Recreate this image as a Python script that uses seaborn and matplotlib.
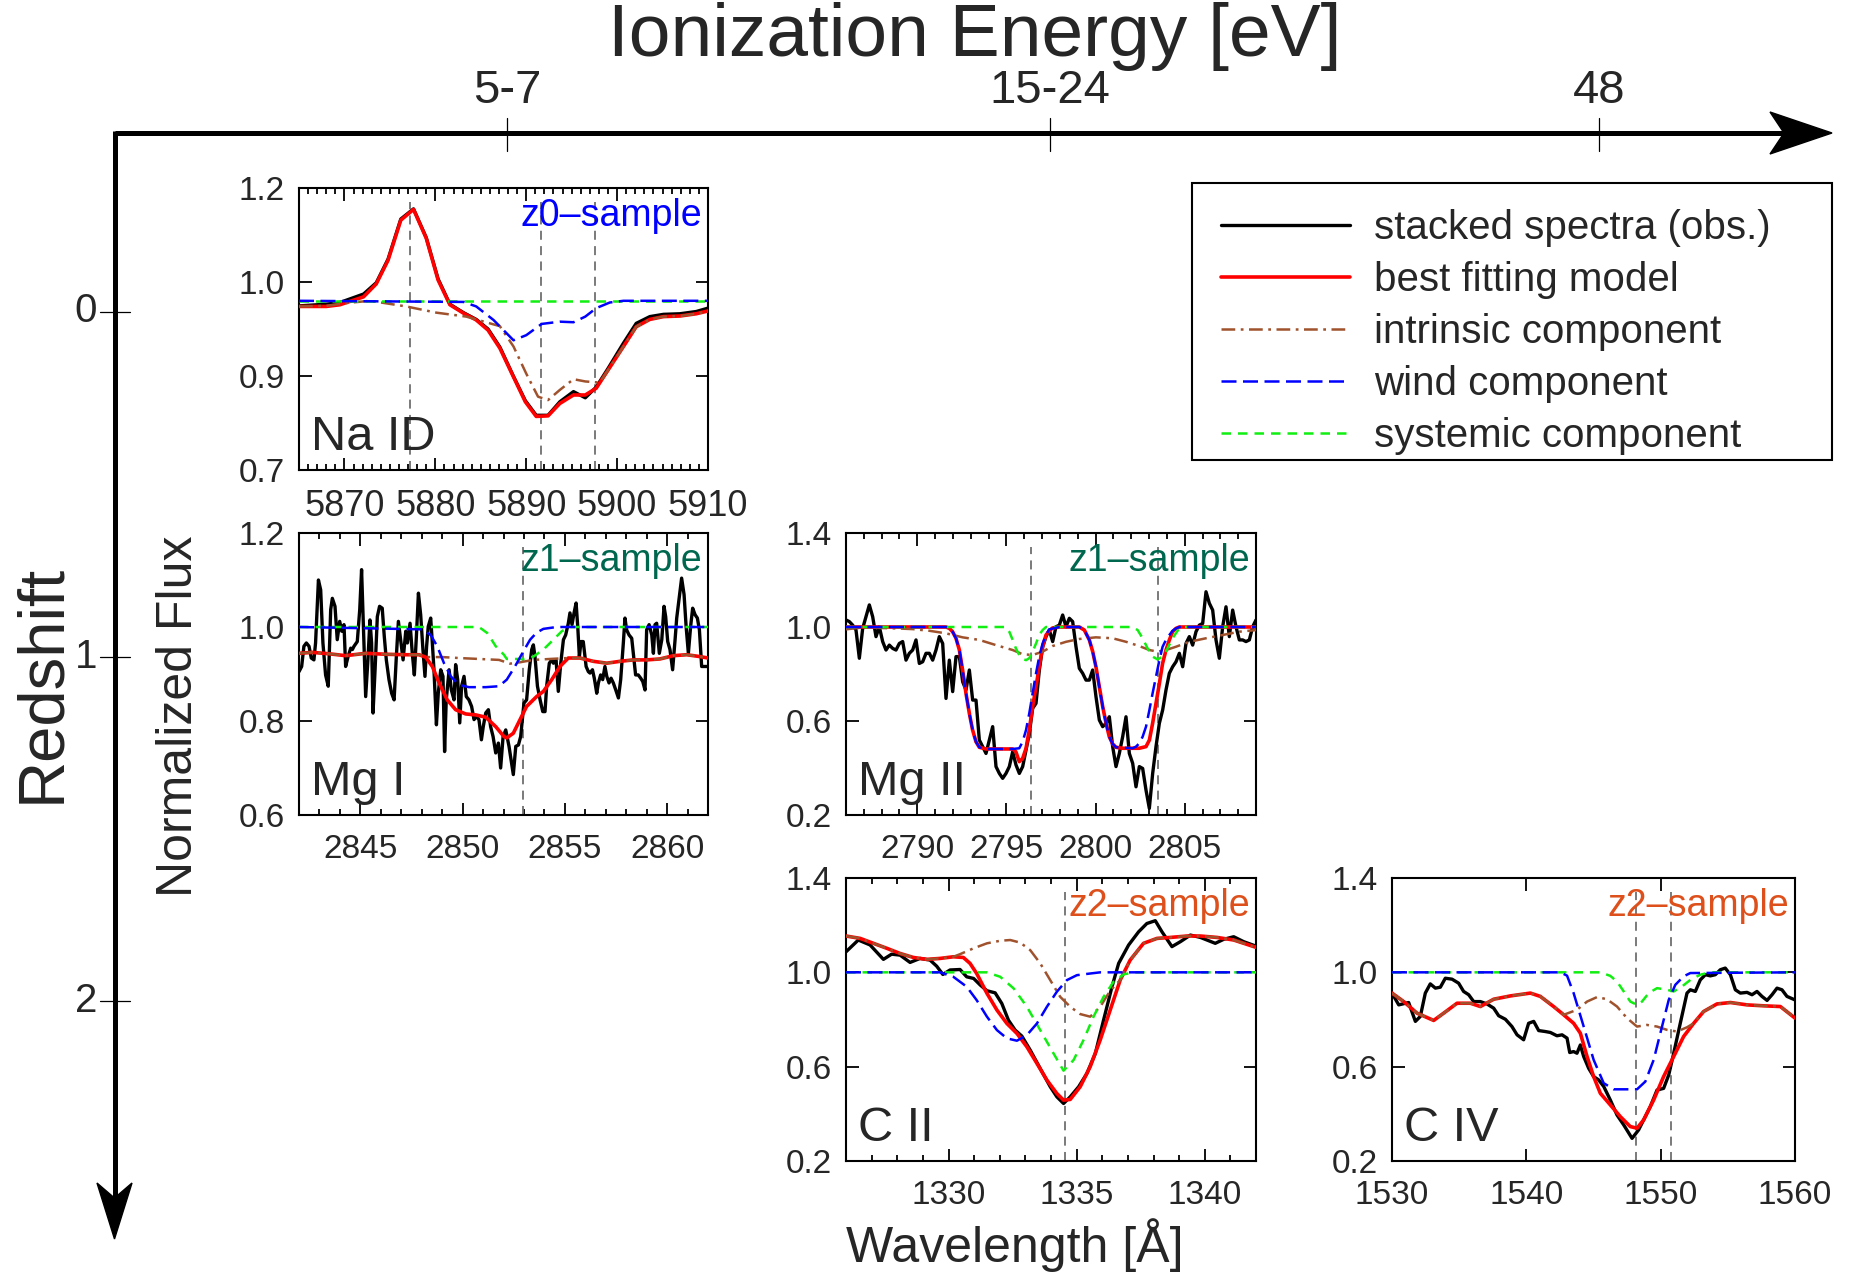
import numpy as np
import matplotlib
matplotlib.use("Agg")
import matplotlib.pyplot as plt
from matplotlib.patches import Polygon, Rectangle
from matplotlib.ticker import MultipleLocator, FixedLocator, NullLocator, FormatStrFormatter
import seaborn as sns

# ---------------- data ----------------
# Na ID (z0-sample)
na_w = [5865.0, 5868.0, 5869.5, 5872.1, 5873.5, 5874.8, 5876.2, 5877.6, 5879.0, 5880.3,
        5881.6, 5883.1, 5884.5, 5885.8, 5887.1, 5888.6, 5889.9, 5891.1, 5892.4, 5893.7,
        5895.2, 5896.5, 5897.7, 5899.0, 5900.7, 5902.1, 5903.6, 5905.1, 5906.9, 5908.7, 5910.0]
na_obs = [0.991, 0.994, 0.997, 1.012, 1.032, 1.074, 1.145, 1.163, 1.112, 1.039,
          0.994, 0.979, 0.967, 0.950, 0.918, 0.866, 0.823, 0.797, 0.797, 0.821,
          0.839, 0.828, 0.847, 0.880, 0.925, 0.960, 0.972, 0.976, 0.977, 0.981, 0.987]
na_model = [0.990, 0.990, 0.993, 1.007, 1.030, 1.072, 1.143, 1.162, 1.111, 1.037,
            0.993, 0.978, 0.966, 0.948, 0.916, 0.865, 0.821, 0.795, 0.796, 0.818,
            0.833, 0.833, 0.845, 0.877, 0.919, 0.954, 0.967, 0.972, 0.973, 0.977, 0.982]
na_intr_w = [5865.0, 5868.0, 5870.2, 5872.8, 5876.8, 5880.1, 5883.4, 5887.1, 5888.6, 5890.0,
             5891.3, 5892.4, 5893.7, 5895.2, 5896.5, 5898.1, 5899.0, 5900.7, 5902.1, 5903.6,
             5905.1, 5906.9, 5908.7, 5910.0]
na_intr = [0.990, 0.991, 0.996, 1.000, 0.990, 0.979, 0.972, 0.955, 0.919, 0.871,
           0.830, 0.824, 0.842, 0.861, 0.857, 0.855, 0.877, 0.919, 0.954, 0.967,
           0.972, 0.973, 0.977, 0.982]
na_wind_w = [5865.0, 5883.1, 5884.5, 5886.4, 5888.6, 5890.0, 5891.7, 5893.7, 5895.2, 5896.5,
             5897.7, 5899.2, 5900.7, 5910.0]
na_wind = [1.0, 0.998, 0.990, 0.966, 0.930, 0.939, 0.959, 0.963, 0.962, 0.972,
           0.987, 0.997, 1.0, 1.0]
na_sys_w = [5865.0, 5910.0]
na_sys = [1.0, 1.0]
na_lines = [5877.25, 5891.58, 5897.56]

# Mg I (z1-sample)
mg1_obs_w = [2842.00, 2842.13, 2842.24, 2842.36, 2842.49, 2842.60, 2842.73, 2842.81, 2842.95, 2843.06,
             2843.17, 2843.30, 2843.43, 2843.55, 2843.63, 2843.76, 2843.87, 2843.99, 2844.09, 2844.20,
             2844.28, 2844.40, 2844.53, 2844.61, 2844.69, 2844.85, 2844.97, 2845.06, 2845.15, 2845.26,
             2845.37, 2845.47, 2845.55, 2845.62, 2845.72, 2845.83, 2845.94, 2846.07, 2846.17, 2846.27,
             2846.40, 2846.53, 2846.65, 2846.76, 2846.86, 2846.97, 2847.09, 2847.22, 2847.30, 2847.43,
             2847.54, 2847.64, 2847.74, 2847.84, 2847.95, 2848.06, 2848.16, 2848.24, 2848.32, 2848.44,
             2848.52, 2848.60, 2848.72, 2848.81, 2848.93, 2849.04, 2849.12, 2849.20, 2849.34, 2849.45,
             2849.58, 2849.66, 2849.76, 2849.86, 2849.95, 2850.07, 2850.18, 2850.31, 2850.44, 2850.56,
             2850.67, 2850.80, 2850.92, 2851.01, 2851.13, 2851.26, 2851.37, 2851.49, 2851.62, 2851.75,
             2851.86, 2851.98, 2852.11, 2852.27, 2852.37, 2852.48, 2852.60, 2852.73, 2852.84, 2852.94,
             2853.00, 2853.13, 2853.26, 2853.38, 2853.46, 2853.54, 2853.66, 2853.79, 2853.92, 2854.03,
             2854.11, 2854.24, 2854.36, 2854.44, 2854.57, 2854.68, 2854.80, 2854.93, 2855.04, 2855.17,
             2855.25, 2855.35, 2855.45, 2855.55, 2855.63, 2855.71, 2855.79, 2855.90, 2856.04, 2856.15,
             2856.23, 2856.35, 2856.44, 2856.56, 2856.64, 2856.75, 2856.85, 2856.96, 2857.05, 2857.16,
             2857.26, 2857.37, 2857.49, 2857.62, 2857.73, 2857.86, 2857.94, 2858.02, 2858.14, 2858.27,
             2858.35, 2858.46, 2858.59, 2858.71, 2858.81, 2858.92, 2859.00, 2859.12, 2859.25, 2859.33,
             2859.41, 2859.49, 2859.62, 2859.74, 2859.85, 2859.93, 2860.03, 2860.14, 2860.27, 2860.39,
             2860.47, 2860.58, 2860.71, 2860.83, 2860.93, 2861.04, 2861.15, 2861.25, 2861.37, 2861.48,
             2861.58, 2861.69, 2861.81, 2861.94, 2862.00]
mg1_obs = [0.905, 0.916, 0.959, 0.966, 0.959, 0.934, 0.930, 0.966, 1.100, 1.079,
           0.966, 0.898, 0.874, 1.037, 1.061, 1.044, 0.973, 1.012, 0.991, 1.005,
           0.916, 0.937, 0.955, 0.952, 0.959, 0.969, 1.037, 1.122, 1.001, 0.852,
           0.930, 1.015, 0.966, 0.817, 0.909, 1.022, 1.044, 1.040, 0.980, 0.930,
           0.888, 0.859, 0.845, 0.937, 1.012, 0.973, 0.930, 0.991, 0.966, 1.008,
           0.944, 0.898, 0.980, 1.072, 1.026, 0.952, 0.895, 0.959, 1.001, 1.019,
           0.966, 0.909, 0.792, 0.859, 0.909, 0.895, 0.735, 0.845, 0.909, 0.866,
           0.845, 0.920, 0.888, 0.796, 0.874, 0.895, 0.852, 0.845, 0.831, 0.803,
           0.810, 0.803, 0.760, 0.788, 0.817, 0.824, 0.788, 0.767, 0.732, 0.753,
           0.700, 0.767, 0.781, 0.746, 0.718, 0.686, 0.746, 0.749, 0.767, 0.810,
           0.838, 0.845, 0.909, 0.952, 0.962, 0.937, 0.874, 0.845, 0.820, 0.820,
           0.874, 0.923, 0.930, 0.923, 0.930, 0.863, 0.923, 0.973, 0.983, 1.008,
           1.030, 1.005, 1.030, 1.051, 1.001, 0.937, 0.969, 0.969, 0.916, 0.905,
           0.902, 0.909, 0.891, 0.859, 0.881, 0.898, 0.888, 0.916, 0.895, 0.881,
           0.891, 0.881, 0.866, 0.849, 0.888, 0.966, 1.019, 0.994, 0.983, 0.976,
           0.944, 0.898, 0.898, 0.891, 0.884, 0.866, 0.994, 1.005, 0.983, 0.944,
           1.005, 1.008, 0.944, 0.973, 1.044, 1.022, 0.969, 0.952, 0.909, 0.973,
           1.019, 1.058, 1.104, 1.069, 1.001, 0.944, 1.001, 1.040, 1.026, 1.019,
           0.994, 0.916, 0.916, 0.916, 0.916]
mg1_model_w = [2842.00, 2842.65, 2843.47, 2844.28, 2845.26, 2846.24, 2847.22, 2847.87, 2848.19, 2848.52,
               2848.85, 2849.25, 2849.66, 2850.15, 2850.64, 2851.13, 2851.62, 2852.02, 2852.16, 2852.48,
               2852.81, 2853.13, 2853.62, 2853.95, 2854.36, 2854.76, 2855.17, 2855.74, 2856.39, 2857.05,
               2857.70, 2858.35, 2859.00, 2859.65, 2860.31, 2860.96, 2861.61, 2862.00]
mg1_model = [0.944, 0.946, 0.943, 0.939, 0.944, 0.942, 0.941, 0.941, 0.936, 0.916,
             0.881, 0.845, 0.824, 0.815, 0.813, 0.808, 0.788, 0.767, 0.764, 0.774,
             0.803, 0.831, 0.852, 0.863, 0.888, 0.916, 0.934, 0.934, 0.927, 0.923,
             0.927, 0.930, 0.930, 0.932, 0.939, 0.941, 0.937, 0.934]
mg1_intr_w = [2842.00, 2842.65, 2843.47, 2844.28, 2845.26, 2846.24, 2847.22, 2847.87, 2848.19, 2849.01,
              2849.82, 2850.80, 2851.78, 2852.32, 2852.81, 2853.46, 2854.28, 2855.17, 2855.74, 2856.39,
              2857.05, 2857.70, 2858.35, 2859.00, 2859.65, 2860.31, 2860.96, 2861.61, 2862.00]
mg1_intr = [0.944, 0.946, 0.943, 0.939, 0.944, 0.942, 0.941, 0.941, 0.936, 0.936,
            0.934, 0.932, 0.930, 0.922, 0.925, 0.930, 0.932, 0.934, 0.934, 0.927,
            0.923, 0.927, 0.930, 0.930, 0.932, 0.939, 0.941, 0.937, 0.934]
mg1_wind_w = [2842.0, 2848.03, 2848.44, 2848.76, 2849.09, 2849.42, 2849.82, 2850.31, 2851.13, 2851.78,
              2852.16, 2852.56, 2852.97, 2853.30, 2853.62, 2853.95, 2854.60, 2862.0]
mg1_wind = [1.0, 0.995, 0.983, 0.959, 0.923, 0.895, 0.877, 0.872, 0.872, 0.874,
            0.888, 0.916, 0.948, 0.973, 0.988, 0.996, 1.0, 1.0]
mg1_sys_w = [2842.0, 2850.80, 2851.21, 2851.62, 2852.02, 2852.16, 2852.97, 2853.46, 2853.95, 2854.44,
             2854.85, 2855.25, 2862.0]
mg1_sys = [1.0, 1.0, 0.987, 0.959, 0.941, 0.932, 0.932, 0.937, 0.952, 0.973, 0.991, 1.0, 1.0]
mg1_lines = [2852.96]

# Mg II (z1-sample), observed flux on the uniform pixel grid 2786-2809 A
mg2_obs = [1.030, 1.023, 1.008, 0.987, 0.867, 0.994, 1.044, 1.094, 1.044, 0.959,
           1.001, 0.938, 0.902, 0.923, 0.909, 0.902, 0.930, 0.938, 0.859, 0.888,
           0.902, 0.945, 0.845, 0.852, 0.888, 0.888, 0.859, 0.902, 0.959, 0.930,
           0.696, 0.859, 0.725, 0.874, 0.874, 0.767, 0.732, 0.817, 0.689, 0.689,
           0.519, 0.491, 0.462, 0.519, 0.576, 0.406, 0.377, 0.356, 0.377, 0.406,
           0.469, 0.413, 0.377, 0.406, 0.476, 0.547, 0.654, 0.675, 0.817, 0.916,
           0.959, 0.987, 0.938, 1.001, 1.008, 1.051, 1.001, 1.037, 1.023, 0.916,
           0.824, 0.803, 0.774, 0.774, 0.817, 0.703, 0.604, 0.576, 0.590, 0.618,
           0.491, 0.406, 0.462, 0.533, 0.618, 0.462, 0.420, 0.320, 0.406, 0.398,
           0.306, 0.228, 0.377, 0.491, 0.590, 0.647, 0.732, 0.803, 0.831, 0.852,
           0.888, 0.831, 0.930, 0.959, 0.923, 0.980, 1.008, 1.015, 1.150, 1.101,
           1.072, 0.945, 0.867, 1.001, 1.086, 0.959, 1.072, 1.001, 0.945, 0.945,
           0.938, 0.945, 1.001, 1.030]
mg2_obs_w = np.linspace(2786.0, 2809.0, len(mg2_obs))
mg2_model_w = [2786.00, 2791.61, 2791.80, 2791.98, 2792.17, 2792.36, 2792.54, 2792.73, 2792.92, 2793.10,
               2793.29, 2793.48, 2793.85, 2795.35, 2795.53, 2795.72, 2795.91, 2796.10, 2796.28, 2796.47,
               2796.66, 2796.84, 2797.03, 2797.22, 2797.41, 2797.59, 2797.97, 2799.09, 2799.37, 2799.65,
               2799.84, 2800.02, 2800.21, 2800.40, 2800.59, 2800.77, 2800.96, 2801.15, 2801.52, 2802.45,
               2802.83, 2803.02, 2803.20, 2803.39, 2803.58, 2803.76, 2803.95, 2804.14, 2804.32, 2804.51,
               2804.70, 2809.00]
mg2_model = [1.0, 1.0, 0.994, 0.980, 0.952, 0.902, 0.817, 0.718, 0.632, 0.562,
             0.512, 0.488, 0.481, 0.481, 0.469, 0.427, 0.441, 0.484, 0.562, 0.661,
             0.746, 0.831, 0.916, 0.966, 0.984, 0.996, 1.0, 1.0, 0.987, 0.945,
             0.895, 0.831, 0.746, 0.661, 0.590, 0.533, 0.502, 0.488, 0.484, 0.484,
             0.491, 0.519, 0.590, 0.675, 0.760, 0.845, 0.902, 0.945, 0.980, 0.994,
             1.0, 1.0]
mg2_intr_w = [2786.00, 2786.93, 2788.80, 2789.74, 2790.67, 2791.61, 2792.54, 2793.48, 2794.41, 2795.35,
              2795.91, 2796.47, 2797.03, 2797.59, 2798.34, 2799.09, 2800.02, 2800.96, 2801.71, 2802.45,
              2803.02, 2803.48, 2803.95, 2804.51, 2805.26, 2806.19, 2807.13, 2808.06, 2809.00]
mg2_intr = [0.990, 0.998, 0.994, 0.991, 0.984, 0.973, 0.956, 0.945, 0.923, 0.902,
            0.884, 0.881, 0.895, 0.919, 0.937, 0.949, 0.956, 0.952, 0.937, 0.919,
            0.902, 0.895, 0.902, 0.916, 0.937, 0.952, 0.966, 0.980, 0.987]
mg2_wind_w = [2786.00, 2791.61, 2791.80, 2791.98, 2792.17, 2792.36, 2792.54, 2792.73, 2792.92, 2793.10,
              2793.29, 2793.48, 2793.85, 2795.35, 2795.72, 2795.91, 2796.10, 2796.28, 2796.47, 2796.66,
              2796.84, 2797.03, 2797.22, 2797.40, 2797.97, 2799.09, 2799.37, 2799.65, 2799.84, 2800.02,
              2800.21, 2800.40, 2800.59, 2800.77, 2800.96, 2801.15, 2802.08, 2802.27, 2802.45, 2802.64,
              2802.83, 2803.02, 2803.20, 2803.39, 2803.58, 2803.76, 2803.95, 2804.14, 2804.32, 2804.51,
              2804.70, 2809.00]
mg2_wind = [1.0, 1.0, 0.994, 0.980, 0.952, 0.902, 0.817, 0.718, 0.632, 0.562,
            0.512, 0.488, 0.481, 0.481, 0.484, 0.512, 0.562, 0.632, 0.718, 0.803,
            0.874, 0.930, 0.966, 0.990, 1.0, 1.0, 0.987, 0.945, 0.895, 0.831,
            0.746, 0.661, 0.590, 0.533, 0.502, 0.488, 0.484, 0.491, 0.505, 0.533,
            0.576, 0.647, 0.718, 0.789, 0.859, 0.916, 0.945, 0.966, 0.984, 0.994,
            1.0, 1.0]
mg2_sys_w = [2786.0, 2794.97, 2795.16, 2795.35, 2795.53, 2795.72, 2795.91, 2796.10, 2796.28, 2796.47,
             2796.66, 2796.84, 2797.03, 2797.22, 2802.08, 2802.36, 2802.64, 2802.92, 2803.20, 2803.48,
             2803.76, 2804.04, 2804.32, 2804.60, 2804.89, 2809.0]
mg2_sys = [1.0, 1.0, 0.980, 0.945, 0.909, 0.881, 0.864, 0.859, 0.867, 0.895,
           0.930, 0.966, 0.987, 1.0, 1.0, 0.987, 0.952, 0.909, 0.874, 0.862,
           0.874, 0.909, 0.952, 0.984, 1.0, 1.0]
mg2_lines = [2796.35, 2803.53]

# C II (z2-sample)
c2_obs_w = [1326.00, 1326.48, 1326.94, 1327.46, 1327.78, 1328.11, 1328.50, 1328.89, 1329.28, 1329.54,
            1329.78, 1330.06, 1330.45, 1330.71, 1330.98, 1331.24, 1331.50, 1331.82, 1332.08, 1332.34,
            1332.60, 1332.86, 1333.19, 1333.58, 1333.97, 1334.23, 1334.49, 1334.75, 1335.08, 1335.40,
            1335.73, 1336.05, 1336.38, 1336.64, 1337.03, 1337.42, 1337.74, 1338.07, 1338.33, 1338.72,
            1339.05, 1339.44, 1339.83, 1340.41, 1340.74, 1341.13, 1341.52, 1342.00]
c2_obs = [1.087, 1.137, 1.116, 1.055, 1.077, 1.073, 1.042, 1.059, 1.052, 1.026,
          0.991, 1.010, 1.012, 0.981, 0.974, 0.946, 0.922, 0.913, 0.868, 0.797,
          0.755, 0.730, 0.670, 0.592, 0.515, 0.472, 0.444, 0.472, 0.515, 0.571,
          0.656, 0.797, 0.939, 1.038, 1.116, 1.172, 1.207, 1.219, 1.172, 1.109,
          1.130, 1.158, 1.148, 1.123, 1.140, 1.151, 1.130, 1.111]
c2_model_w = [1326.00, 1326.55, 1327.07, 1327.59, 1328.11, 1328.63, 1329.15, 1329.67, 1330.19, 1330.58,
              1330.84, 1331.10, 1331.50, 1331.89, 1332.28, 1332.67, 1333.06, 1333.45, 1333.84, 1334.23,
              1334.49, 1334.75, 1335.14, 1335.53, 1335.92, 1336.31, 1336.70, 1337.09, 1337.61, 1338.14,
              1338.66, 1339.31, 1339.83, 1340.48, 1341.13, 1342.00]
c2_model = [1.154, 1.144, 1.123, 1.102, 1.080, 1.063, 1.055, 1.059, 1.066, 1.063,
            1.038, 0.995, 0.911, 0.840, 0.783, 0.741, 0.684, 0.614, 0.543, 0.486,
            0.458, 0.461, 0.515, 0.600, 0.713, 0.840, 0.967, 1.052, 1.123, 1.144,
            1.148, 1.154, 1.154, 1.148, 1.137, 1.106]
c2_intr_w = [1326.00, 1326.55, 1327.07, 1327.59, 1328.11, 1328.63, 1329.15, 1329.67, 1330.19, 1330.45,
             1330.98, 1331.50, 1332.02, 1332.41, 1332.80, 1333.19, 1333.58, 1333.97, 1334.36, 1334.75,
             1335.14, 1335.53, 1335.92, 1336.31, 1336.70, 1337.09, 1337.61, 1338.14, 1338.66, 1339.31,
             1339.83, 1340.48, 1341.13, 1342.00]
c2_intr = [1.154, 1.144, 1.123, 1.102, 1.080, 1.063, 1.055, 1.059, 1.066, 1.077,
           1.102, 1.123, 1.134, 1.137, 1.126, 1.094, 1.038, 0.967, 0.896, 0.854,
           0.823, 0.812, 0.854, 0.922, 0.967, 1.052, 1.123, 1.144, 1.148, 1.154,
           1.154, 1.148, 1.137, 1.106]
c2_wind_w = [1326.0, 1329.67, 1330.19, 1330.71, 1331.10, 1331.50, 1331.89, 1332.28, 1332.67, 1333.06,
             1333.45, 1333.84, 1334.23, 1334.62, 1335.01, 1335.53, 1335.92, 1342.0]
c2_wind = [1.0, 1.0, 0.981, 0.939, 0.882, 0.812, 0.755, 0.720, 0.710, 0.734,
           0.783, 0.854, 0.918, 0.967, 0.988, 0.995, 1.0, 1.0]
c2_sys_w = [1326.0, 1331.50, 1332.02, 1332.54, 1333.06, 1333.58, 1334.10, 1334.49, 1334.88, 1335.27,
            1335.66, 1336.05, 1336.44, 1336.83, 1337.22, 1342.0]
c2_sys = [1.0, 1.0, 0.981, 0.932, 0.854, 0.755, 0.656, 0.583, 0.628, 0.713,
          0.812, 0.896, 0.960, 0.991, 1.0, 1.0]
c2_lines = [1334.53]

# C IV (z2-sample)
c4_obs_w = [1530.00, 1530.50, 1531.24, 1531.74, 1532.11, 1532.48, 1532.85, 1533.23, 1533.60, 1533.97,
            1534.47, 1534.96, 1535.33, 1535.71, 1536.08, 1536.58, 1537.07, 1537.57, 1537.94, 1538.44,
            1538.93, 1539.31, 1539.80, 1540.17, 1540.55, 1540.92, 1541.41, 1541.79, 1542.28, 1542.66,
            1543.03, 1543.23, 1543.52, 1543.77, 1544.02, 1544.27, 1544.64, 1545.01, 1545.38, 1545.76,
            1546.25, 1546.75, 1547.25, 1547.87, 1548.36, 1548.73, 1549.23, 1549.73, 1550.22, 1550.60,
            1550.97, 1551.46, 1551.96, 1552.21, 1552.58, 1552.95, 1553.33, 1553.70, 1554.07, 1554.44,
            1554.81, 1555.19, 1555.56, 1555.93, 1556.43, 1556.80, 1557.17, 1557.54, 1557.92, 1558.29,
            1558.66, 1559.03, 1559.40, 1560.00]
c4_obs = [0.912, 0.862, 0.872, 0.792, 0.813, 0.912, 0.951, 0.933, 0.937, 0.975,
          0.971, 0.954, 0.919, 0.905, 0.876, 0.876, 0.866, 0.848, 0.816, 0.801,
          0.770, 0.735, 0.714, 0.784, 0.792, 0.753, 0.749, 0.745, 0.731, 0.735,
          0.721, 0.660, 0.664, 0.657, 0.692, 0.643, 0.593, 0.558, 0.544, 0.516,
          0.459, 0.395, 0.353, 0.296, 0.332, 0.374, 0.431, 0.501, 0.508, 0.565,
          0.657, 0.784, 0.912, 0.926, 0.919, 0.968, 0.990, 0.985, 0.990, 1.011,
          1.018, 0.990, 0.926, 0.912, 0.915, 0.905, 0.919, 0.898, 0.881, 0.905,
          0.933, 0.926, 0.898, 0.883]
c4_model_w = [1530.00, 1530.87, 1531.86, 1533.10, 1533.85, 1534.84, 1535.83, 1536.58, 1537.57, 1538.81,
              1540.30, 1541.04, 1542.03, 1542.78, 1543.52, 1544.02, 1544.52, 1545.01, 1545.51, 1546.25,
              1547.00, 1547.74, 1548.24, 1548.73, 1549.48, 1550.22, 1550.97, 1551.71, 1552.46, 1553.20,
              1554.19, 1555.19, 1556.43, 1557.67, 1558.91, 1560.00]
c4_model = [0.912, 0.876, 0.827, 0.796, 0.827, 0.869, 0.869, 0.855, 0.886, 0.900,
            0.912, 0.898, 0.855, 0.820, 0.784, 0.742, 0.643, 0.558, 0.487, 0.438,
            0.388, 0.346, 0.339, 0.374, 0.459, 0.558, 0.643, 0.728, 0.784, 0.834,
            0.866, 0.872, 0.862, 0.858, 0.855, 0.806]
c4_intr_w = [1530.00, 1530.87, 1531.86, 1533.10, 1533.85, 1534.84, 1535.83, 1536.58, 1537.57, 1538.81,
             1540.30, 1541.04, 1542.03, 1542.78, 1543.77, 1544.52, 1545.26, 1546.00, 1546.75, 1547.49,
             1548.24, 1548.98, 1549.73, 1550.47, 1551.22, 1551.96, 1552.46, 1553.20, 1554.19, 1555.19,
             1556.43, 1557.67, 1558.91, 1560.00]
c4_intr = [0.912, 0.876, 0.827, 0.796, 0.827, 0.869, 0.869, 0.855, 0.886, 0.900,
           0.912, 0.898, 0.855, 0.820, 0.841, 0.876, 0.895, 0.886, 0.855, 0.806,
           0.770, 0.777, 0.770, 0.756, 0.749, 0.767, 0.784, 0.834, 0.866, 0.872,
           0.862, 0.858, 0.855, 0.806]
c4_wind_w = [1530.0, 1542.53, 1543.03, 1543.52, 1544.27, 1545.01, 1545.76, 1546.50, 1548.24, 1548.86,
             1549.48, 1550.10, 1550.60, 1551.09, 1551.71, 1552.21, 1560.0]
c4_wind = [1.0, 1.0, 0.986, 0.912, 0.770, 0.629, 0.530, 0.504, 0.504, 0.537,
           0.629, 0.770, 0.883, 0.947, 0.983, 0.997, 1.0]
c4_sys_w = [1530.0, 1545.51, 1546.25, 1546.75, 1547.25, 1547.74, 1548.24, 1548.61, 1549.11, 1549.73,
            1550.47, 1550.97, 1551.59, 1552.21, 1552.95, 1553.70, 1560.0]
c4_sys = [1.0, 1.0, 0.985, 0.961, 0.919, 0.876, 0.862, 0.876, 0.912, 0.933,
          0.926, 0.919, 0.940, 0.968, 0.990, 1.0, 1.0]
c4_lines = [1548.20, 1550.78]

energy_labels = ["5-7", "15-24", "48"]
redshift_labels = ["0", "1", "2"]

# ---------------- style ----------------
sns.set_style("ticks")
plt.rcParams["font.family"] = ["Liberation Sans", "DejaVu Sans"]

STYLES = {
    "obs": dict(color="black", lw=2.4, ls="-", z=3, label="stacked spectra (obs.)"),
    "model": dict(color="#FF0000", lw=2.6, ls="-", z=4, label="best fitting model"),
    "intr": dict(color="#A0522D", lw=1.8, ls=(0, (5.5, 2.2, 1.1, 2.2)), z=5, label="intrinsic component"),
    "wind": dict(color="#0000FF", lw=1.8, ls=(0, (6, 2.6)), z=7, label="wind component"),
    "sys": dict(color="#11EE11", lw=1.8, ls=(0, (3.8, 2.8)), z=6, label="systemic component"),
}
ORDER = ["obs", "model", "intr", "sys", "wind"]

W, H = 1850.0, 1276.0
fig = plt.figure(figsize=(W / 100, H / 100), dpi=100)

base = fig.add_axes([0, 0, 1, 1])
base.set_xlim(0, W)
base.set_ylim(H, 0)
base.axis("off")


def rect(x0, y0, x1, y1):
    return [x0 / W, 1 - y1 / H, (x1 - x0) / W, (y1 - y0) / H]


def panel(box, xlim, ylim, yticks, xmajor, xminor, lines, name, tag, tag_color, data, xsize=24):
    ax = fig.add_axes(rect(*box))
    for lam in lines:
        ax.axvline(lam, ymax=0.95, color="#707070", lw=1.3, ls=(0, (5, 3.5)), zorder=2)
    handles = {}
    for key in ORDER:
        w, f = data[key]
        st = STYLES[key]
        sns.lineplot(x=w, y=f, ax=ax, estimator=None, sort=False, color=st["color"],
                     lw=st["lw"], linestyle=st["ls"], zorder=st["z"], label=st["label"])
        handles[key] = ax.lines[-1]
    if ax.get_legend() is not None:
        ax.get_legend().remove()
    ax.set_xlim(*xlim)
    ax.set_ylim(*ylim)
    ax.set_xlabel("")
    ax.set_ylabel("")
    ax.xaxis.set_major_locator(MultipleLocator(xmajor))
    if xminor:
        ax.xaxis.set_minor_locator(MultipleLocator(xminor))
    else:
        ax.xaxis.set_minor_locator(NullLocator())
    ax.yaxis.set_major_locator(FixedLocator(yticks))
    ax.yaxis.set_minor_locator(NullLocator())
    ax.yaxis.set_major_formatter(FormatStrFormatter("%.1f"))
    ax.tick_params(which="both", direction="in", top=True, right=True, labelsize=24,
                   width=1.3, color="black")
    ax.tick_params(which="major", length=9)
    ax.tick_params(which="minor", length=4.5)
    ax.tick_params(axis="x", pad=14, labelsize=xsize)
    ax.tick_params(axis="y", pad=10)
    for sp in ax.spines.values():
        sp.set_linewidth(1.5)
        sp.set_color("black")
    ax.text(0.03, 0.07, name, transform=ax.transAxes, fontsize=35, ha="left", va="baseline", zorder=10)
    ax.text(0.985, 0.965, tag, transform=ax.transAxes, fontsize=27, color=tag_color,
            ha="right", va="top", zorder=10)
    return ax, handles


Z1 = "#00674F"
Z2 = "#DD4F1B"

ax_na, h = panel((299, 188, 708, 470), (5865, 5910), (0.7, 1.2), np.linspace(0.7, 1.2, 4), 10, 1,
                 na_lines, "Na ID", "z0\u2013sample", "#0000FF",
                 dict(obs=(na_w, na_obs), model=(na_w, na_model), intr=(na_intr_w, na_intr),
                      wind=(na_wind_w, na_wind), sys=(na_sys_w, na_sys)), xsize=26)
panel((299, 533, 708, 815), (2842, 2862), (0.6, 1.2), [0.6, 0.8, 1.0, 1.2], 5, 1,
      mg1_lines, "Mg I", "z1\u2013sample", Z1,
      dict(obs=(mg1_obs_w, mg1_obs), model=(mg1_model_w, mg1_model), intr=(mg1_intr_w, mg1_intr),
           wind=(mg1_wind_w, mg1_wind), sys=(mg1_sys_w, mg1_sys)))
panel((846, 533, 1256, 815), (2786, 2809), (0.2, 1.4), [0.2, 0.6, 1.0, 1.4], 5, 1,
      mg2_lines, "Mg II", "z1\u2013sample", Z1,
      dict(obs=(mg2_obs_w, mg2_obs), model=(mg2_model_w, mg2_model), intr=(mg2_intr_w, mg2_intr),
           wind=(mg2_wind_w, mg2_wind), sys=(mg2_sys_w, mg2_sys)))
panel((846, 878, 1256, 1161), (1326, 1342), (0.2, 1.4), [0.2, 0.6, 1.0, 1.4], 5, 1,
      c2_lines, "C II", "z2\u2013sample", Z2,
      dict(obs=(c2_obs_w, c2_obs), model=(c2_model_w, c2_model), intr=(c2_intr_w, c2_intr),
           wind=(c2_wind_w, c2_wind), sys=(c2_sys_w, c2_sys)))
panel((1392, 878, 1795, 1161), (1530, 1560), (0.2, 1.4), [0.2, 0.6, 1.0, 1.4], 10, None,
      c4_lines, "C IV", "z2\u2013sample", Z2,
      dict(obs=(c4_obs_w, c4_obs), model=(c4_model_w, c4_model), intr=(c4_intr_w, c4_intr),
           wind=(c4_wind_w, c4_wind), sys=(c4_sys_w, c4_sys)))

# legend: entries placed freely, box drawn separately
leg_keys = ["obs", "model", "intr", "wind", "sys"]
leg = fig.legend([h[k] for k in leg_keys], [STYLES[k]["label"] for k in leg_keys],
                 loc="upper left", bbox_to_anchor=rect(1204, 192, 1832, 460), mode="expand",
                 frameon=False, fontsize=29,
                 handlelength=3.2, handletextpad=0.6, borderpad=0.42, labelspacing=0.35,
                 borderaxespad=0)
base.add_patch(Rectangle((1192, 183), 640, 277, fill=False, edgecolor="black", lw=1.5, zorder=1))

# ionization energy axis (top) and redshift axis (left)
base.plot([114.5, 1790], [133, 133], color="black", lw=3.6, solid_capstyle="butt")
base.add_patch(Polygon([[1832, 133], [1770, 112], [1784, 133], [1770, 154]], closed=True,
                       color="black"))
base.plot([114.5, 114.5], [131, 1205], color="black", lw=3.6, solid_capstyle="butt")
base.add_patch(Polygon([[114.5, 1239], [97, 1183], [114.5, 1198], [132, 1183]], closed=True,
                       color="black"))
for x, lab in zip([507, 1050, 1599], energy_labels):
    base.plot([x, x], [118, 151], color="black", lw=0.9)
    base.text(x, 91, lab, ha="center", va="center", fontsize=34)
for y, lab in zip([311.5, 657, 1000.6], redshift_labels):
    base.plot([100, 130], [y, y], color="black", lw=0.9)
    base.text(86, y, lab, ha="center", va="center", fontsize=29)

base.text(975, 56, "Ionization Energy [eV]", ha="center", va="baseline", fontsize=54)
base.text(59, 683, "Redshift", ha="center", va="baseline", rotation=90,
          rotation_mode="anchor", fontsize=47)
base.text(191.5, 716, "Normalized Flux", ha="center", va="baseline", rotation=90,
          rotation_mode="anchor", fontsize=36)
base.text(1015, 1245, "Wavelength [\u00c5]", ha="center", va="center", fontsize=36)

fig.savefig("out.png", dpi=100)
